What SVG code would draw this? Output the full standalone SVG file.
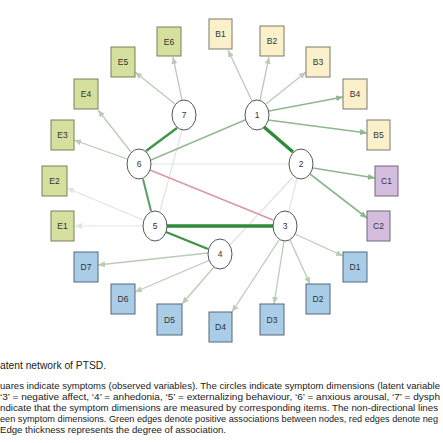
<svg xmlns="http://www.w3.org/2000/svg" width="443" height="443" viewBox="0 0 443 443">
<style>
.lat ellipse{fill:#fff;stroke:#555;stroke-width:1}
.lab{font-family:"Liberation Sans",Arial,sans-serif;font-size:8.5px;fill:#333;text-anchor:middle;dominant-baseline:central}
.sq rect{stroke-width:1}
.E rect{fill:#d5e09e;stroke:#77805e}
.B rect{fill:#faf1cb;stroke:#7d7a68}
.C rect{fill:#d5bddf;stroke:#6f6878}
.D rect{fill:#a9cce7;stroke:#56687a}
.c line{fill:none}
.gg{stroke:#b9ccb5;stroke-width:1.3}
.lg{stroke:#8db78e;stroke-width:1.6}
.ff{stroke:#dfe6dc;stroke-width:1.2}
.dk{stroke:#2f8a3c;stroke-width:3.4}
.md{stroke:#3f9448;stroke-width:2.4}
.mg{stroke:#5fa065;stroke-width:2}
.ml{stroke:#93bb95;stroke-width:1.6}
.rd{stroke:#d59aa2;stroke-width:1.6}
.cap{font-family:"Liberation Sans",Arial,sans-serif;fill:#222}
</style>
<defs>
<marker id="a-gg" markerUnits="userSpaceOnUse" markerWidth="7" markerHeight="6" refX="7" refY="3" orient="auto"><path d="M0,0 L7,3 L0,6 z" fill="#b9ccb5"/></marker>
<marker id="a-lg" markerUnits="userSpaceOnUse" markerWidth="7" markerHeight="6" refX="7" refY="3" orient="auto"><path d="M0,0 L7,3 L0,6 z" fill="#8db78e"/></marker>
<marker id="a-ff" markerUnits="userSpaceOnUse" markerWidth="7" markerHeight="6" refX="7" refY="3" orient="auto"><path d="M0,0 L7,3 L0,6 z" fill="#dfe6dc"/></marker>
</defs>
<rect width="443" height="443" fill="#fff"/>
<g id="connectors" class="c">
<line class="gg" x1="252" y1="101" x2="228" y2="50" marker-end="url(#a-gg)"/>
<line class="gg" x1="260" y1="100" x2="269" y2="57" marker-end="url(#a-gg)"/>
<line class="gg" x1="266" y1="104" x2="306" y2="72" marker-end="url(#a-gg)"/>
<line class="lg" x1="269" y1="111" x2="343" y2="97" marker-end="url(#a-lg)"/>
<line class="lg" x1="268" y1="120" x2="367" y2="133" marker-end="url(#a-lg)"/>
<line class="gg" x1="182" y1="100" x2="173" y2="57" marker-end="url(#a-gg)"/>
<line class="gg" x1="175" y1="104" x2="135" y2="72" marker-end="url(#a-gg)"/>
<line class="gg" x1="131" y1="152" x2="98" y2="110" marker-end="url(#a-gg)"/>
<line class="gg" x1="127" y1="159" x2="74" y2="140" marker-end="url(#a-gg)"/>
<line class="ff" x1="143" y1="220" x2="67" y2="188" marker-end="url(#a-ff)"/>
<line class="ff" x1="143" y1="226" x2="75" y2="226" marker-end="url(#a-ff)"/>
<line class="lg" x1="313" y1="168" x2="375" y2="178" marker-end="url(#a-lg)"/>
<line class="lg" x1="310" y1="174" x2="367" y2="218" marker-end="url(#a-lg)"/>
<line class="gg" x1="295" y1="234" x2="343" y2="256" marker-end="url(#a-gg)"/>
<line class="gg" x1="290" y1="240" x2="310" y2="284" marker-end="url(#a-gg)"/>
<line class="gg" x1="284" y1="241" x2="274" y2="304" marker-end="url(#a-gg)"/>
<line class="gg" x1="279" y1="240" x2="232" y2="312" marker-end="url(#a-gg)"/>
<line class="gg" x1="208" y1="253" x2="98" y2="265" marker-end="url(#a-gg)"/>
<line class="gg" x1="210" y1="260" x2="135" y2="292" marker-end="url(#a-gg)"/>
<line class="gg" x1="214" y1="267" x2="182" y2="304" marker-end="url(#a-gg)"/>
<line class="ff" x1="151" y1="164" x2="289" y2="164"/>
<line class="ff" x1="182" y1="130" x2="160" y2="211"/>
<line class="ff" x1="297" y1="179" x2="289" y2="211"/>
<line class="ff" x1="293" y1="177" x2="230" y2="245"/>
<line class="rd" x1="150" y1="170" x2="273" y2="220"/>
<line class="ml" x1="151" y1="160" x2="245" y2="120"/>
<line class="md" x1="146" y1="151" x2="177" y2="128"/>
<line class="mg" x1="143" y1="179" x2="151" y2="211"/>
<line class="dk" x1="264" y1="127" x2="293" y2="152"/>
<line class="dk" x1="167" y1="226" x2="273" y2="226"/>
<line class="md" x1="166" y1="232" x2="208" y2="249"/>
</g>
<g id="node-1" class="lat"><ellipse cx="257" cy="115" rx="12" ry="15"/><text class="lab" x="257" y="115">1</text></g>
<g id="node-2" class="lat"><ellipse cx="301" cy="164" rx="12" ry="15"/><text class="lab" x="301" y="164">2</text></g>
<g id="node-3" class="lat"><ellipse cx="285" cy="226" rx="12" ry="15"/><text class="lab" x="285" y="226">3</text></g>
<g id="node-4" class="lat"><ellipse cx="220" cy="254" rx="12" ry="15"/><text class="lab" x="220" y="254">4</text></g>
<g id="node-5" class="lat"><ellipse cx="155" cy="226" rx="12" ry="15"/><text class="lab" x="155" y="226">5</text></g>
<g id="node-6" class="lat"><ellipse cx="139" cy="164" rx="12" ry="15"/><text class="lab" x="139" y="164">6</text></g>
<g id="node-7" class="lat"><ellipse cx="184" cy="115" rx="12" ry="15"/><text class="lab" x="184" y="115">7</text></g>
<g id="node-B1" class="sq B"><rect x="209" y="19" width="23" height="30"/><text class="lab" x="220.5" y="34">B1</text></g>
<g id="node-B2" class="sq B"><rect x="260" y="26" width="24" height="30"/><text class="lab" x="272" y="41">B2</text></g>
<g id="node-B3" class="sq B"><rect x="306" y="47" width="24" height="30"/><text class="lab" x="318" y="62">B3</text></g>
<g id="node-B4" class="sq B"><rect x="343" y="79" width="24" height="30"/><text class="lab" x="355" y="94">B4</text></g>
<g id="node-B5" class="sq B"><rect x="367" y="120" width="23" height="30"/><text class="lab" x="378.5" y="135">B5</text></g>
<g id="node-C1" class="sq C"><rect x="375" y="166" width="23" height="30"/><text class="lab" x="386.5" y="181">C1</text></g>
<g id="node-C2" class="sq C"><rect x="367" y="211" width="23" height="30"/><text class="lab" x="378.5" y="226">C2</text></g>
<g id="node-E1" class="sq E"><rect x="51" y="211" width="23" height="30"/><text class="lab" x="62.5" y="226">E1</text></g>
<g id="node-E2" class="sq E"><rect x="42" y="166" width="25" height="30"/><text class="lab" x="54.5" y="181">E2</text></g>
<g id="node-E3" class="sq E"><rect x="51" y="120" width="23" height="30"/><text class="lab" x="62.5" y="135">E3</text></g>
<g id="node-E4" class="sq E"><rect x="74" y="79" width="24" height="30"/><text class="lab" x="86" y="94">E4</text></g>
<g id="node-E5" class="sq E"><rect x="111" y="47" width="24" height="30"/><text class="lab" x="123" y="62">E5</text></g>
<g id="node-E6" class="sq E"><rect x="157" y="27" width="24" height="29"/><text class="lab" x="169" y="41.5">E6</text></g>
<g id="node-D1" class="sq D"><rect x="343" y="252" width="24" height="30"/><text class="lab" x="355" y="267">D1</text></g>
<g id="node-D2" class="sq D"><rect x="306" y="284" width="24" height="30"/><text class="lab" x="318" y="299">D2</text></g>
<g id="node-D3" class="sq D"><rect x="260" y="304" width="24" height="31"/><text class="lab" x="272" y="319.5">D3</text></g>
<g id="node-D4" class="sq D"><rect x="209" y="312" width="23" height="30"/><text class="lab" x="220.5" y="327">D4</text></g>
<g id="node-D5" class="sq D"><rect x="157" y="304" width="25" height="31"/><text class="lab" x="169.5" y="319.5">D5</text></g>
<g id="node-D6" class="sq D"><rect x="111" y="284" width="24" height="30"/><text class="lab" x="123" y="299">D6</text></g>
<g id="node-D7" class="sq D"><rect x="74" y="252" width="24" height="30"/><text class="lab" x="86" y="267">D7</text></g>
<g id="caption" class="cap">
<text x="0" y="369" font-size="11.5" textLength="106" lengthAdjust="spacingAndGlyphs">atent network of PTSD.</text>
<text x="0" y="389" font-size="9" textLength="440" lengthAdjust="spacingAndGlyphs">uares indicate symptoms (observed variables). The circles indicate symptom dimensions (latent variable</text>
<text x="0" y="400" font-size="9" textLength="440" lengthAdjust="spacingAndGlyphs">‘3’ = negative affect, ‘4’ = anhedonia, ‘5’ = externalizing behaviour, ‘6’ = anxious arousal, ‘7’ = dysph</text>
<text x="0" y="411" font-size="9" textLength="438" lengthAdjust="spacingAndGlyphs">ndicate that the symptom dimensions are measured by corresponding items. The non-directional lines</text>
<text x="0" y="422" font-size="8.8" textLength="438" lengthAdjust="spacingAndGlyphs">een symptom dimensions. Green edges denote positive associations between nodes, red edges denote neg</text>
<text x="0" y="433" font-size="9" textLength="226" lengthAdjust="spacingAndGlyphs">Edge thickness represents the degree of association.</text>
</g>
</svg>
